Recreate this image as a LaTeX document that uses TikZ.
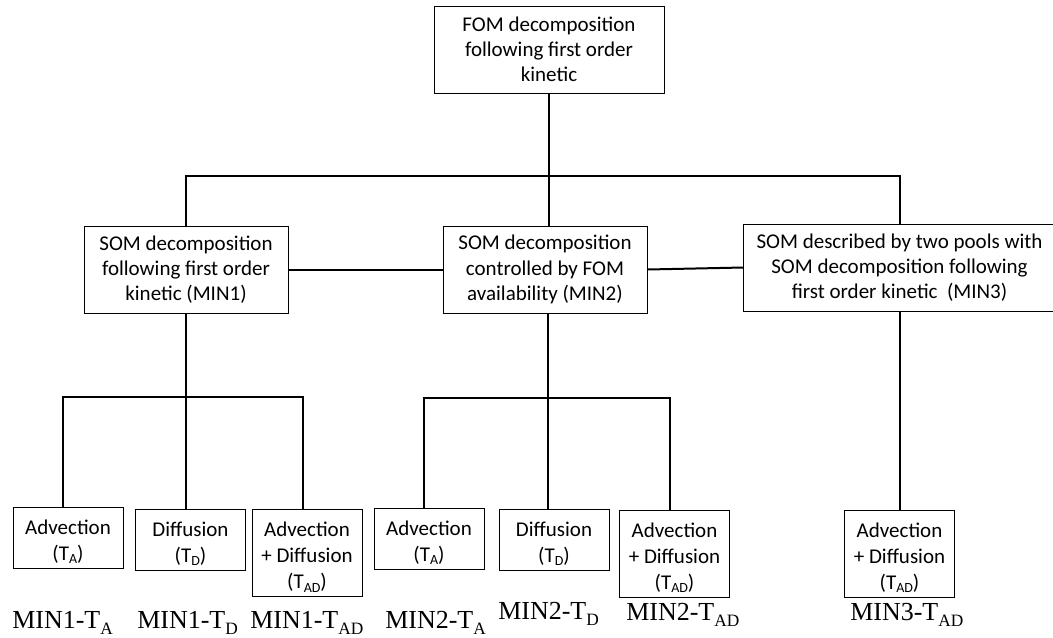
\documentclass[tikz,border=0pt]{standalone}
\usepackage{fontspec}
\setmainfont{Carlito}
\newfontfamily\tnr{Liberation Serif}
\newcommand\boxfont{\fontsize{15.75}{18.9}\selectfont}
\newcommand\leaffont{\fontsize{15.75}{19.6}\selectfont}
\newcommand\lblfont{\tnr\fontsize{19.5}{22}\selectfont}
\newcommand\lsub[1]{\raisebox{-5pt}{\fontsize{13}{13}\selectfont #1}}
\newcommand\bsub[1]{\raisebox{-2.5pt}{\fontsize{10.5}{10.5}\selectfont #1}}
\newcommand\topstrut{\rule{0pt}{17pt}}
\begin{document}
\begin{tikzpicture}[x=0.75pt,y=-0.75pt,
  box/.style={draw,line width=0.75pt,inner sep=0pt,align=center,font=\boxfont},
  leaf/.style={box,font=\leaffont},
  big/.style={minimum height=65.25pt},
  small/.style={leaf,minimum width=82.5pt,minimum height=45.75pt},
  tall/.style={leaf,minimum width=82.5pt,minimum height=65.25pt},
  conn/.style={line width=1.5pt},
  lbl/.style={anchor=base west,inner sep=0pt,font=\lblfont}]
\useasboundingbox (0,0) rectangle (1053,637);
% upper boxes
\node[box,big,minimum width=172.5pt] (top) at (549,49.5) {FOM decomposition\\following first order\\kinetic};
\node[box,big,minimum width=153pt] (m1) at (186,269.5) {SOM decomposition\\following first order\\kinetic (MIN1)};
\node[box,big,minimum width=153pt] (m2) at (545,269.5) {SOM decomposition\\controlled by FOM\\availability (MIN2)};
\node[box,big,minimum width=234pt] (m3) at (899.5,267.5) {SOM described by two pools with\\SOM decomposition following\\first order kinetic~ (MIN3)};
% leaves
\node[small] (a1) at (68,537.5) {\topstrut Advection\\(T\bsub{A})};
\node[small] (d1) at (190.5,539.5) {\topstrut Diffusion\\(T\bsub{D})};
\node[tall] (ad1) at (307,553) {\topstrut Advection\\+ Diffusion\\(T\bsub{AD})};
\node[small] (a2) at (429,538.5) {\topstrut Advection\\(T\bsub{A})};
\node[small] (d2) at (554,539.5) {\topstrut Diffusion\\(T\bsub{D})};
\node[tall] (ad2) at (674.5,553.5) {\topstrut Advection\\+ Diffusion\\(T\bsub{AD})};
\node[tall] (ad3) at (899.5,553.5) {\topstrut Advection\\+ Diffusion\\(T\bsub{AD})};
% connectors
\coordinate (h0) at (549,176);
\coordinate (b1) at (186,397);
\coordinate (b2) at (548,398);
\draw[conn] (top.south) -- (top.south |- m2.north);
\draw[conn] (m1.north) |- (h0) -| (m3.north);
\draw[conn] (m1.east) -- (m2.west);
\draw[conn] (m2.east) -- (m3.west);
\draw[conn] (m1.south) -- (m1.south |- d1.north);
\draw[conn] ([xshift=-3.75pt]a1.north) |- (b1) -| ([xshift=-3pt]ad1.north);
\draw[conn] (b2 |- m2.south) -- (b2 |- d2.north);
\draw[conn] ([xshift=-3.75pt]a2.north) |- (b2) -| ([xshift=-3.4pt]ad2.north);
\draw[conn] (m3.south) -- (m3.south |- ad3.north);
% labels
\node[lbl] (l1) at (12,628) {MIN1-T\lsub{A}};
\node[lbl] (l2) at (137,628) {MIN1-T\lsub{D}};
\node[lbl] (l3) at (250,628) {MIN1-T\lsub{AD}};
\node[lbl] (l4) at (385,628) {MIN2-T\lsub{A}};
\node[lbl] (l5) at (498,619) {MIN2-T\lsub{D}};
\node[lbl] (l6) at (626,620) {MIN2-T\lsub{AD}};
\node[lbl] (l7) at (850,620) {MIN3-T\lsub{AD}};
\end{tikzpicture}
\end{document}
